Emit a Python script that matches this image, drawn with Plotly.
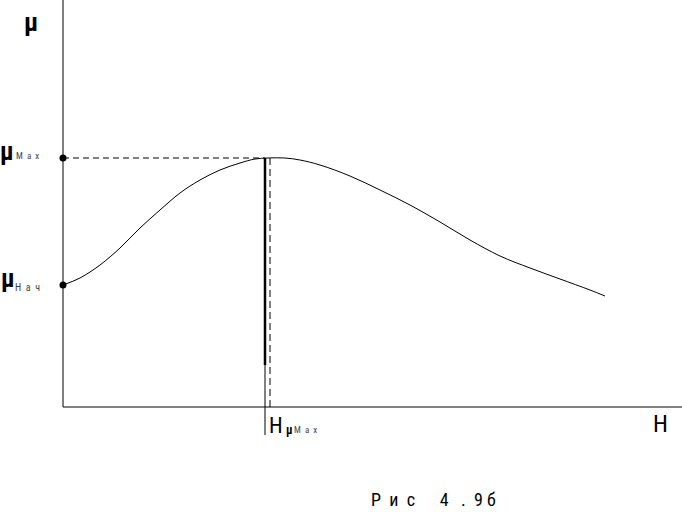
import plotly.graph_objects as go

# Curve data (arbitrary units): H and mu
H = [0, 0.17, 0.37, 0.57, 0.77, 0.97, 1.17, 1.37, 1.57, 1.77, 1.92, 2.05, 2.22, 2.37,
     2.57, 2.87, 3.17, 3.47, 3.77, 4.07, 4.37, 4.67, 4.97, 5.27, 5.42]
mu = [1.22, 1.29, 1.42, 1.59, 1.79, 1.97, 2.14, 2.27, 2.37, 2.44, 2.48, 2.49, 2.49, 2.47,
      2.42, 2.31, 2.17, 2.02, 1.85, 1.67, 1.51, 1.39, 1.28, 1.17, 1.11]

mu_nach = 1.22
mu_max = 2.49
H_mu_max = 2.02       # solid marker line
H_mu_max_dash = 2.07  # dashed marker line

X_RANGE = [-0.63, 6.19]
Y_RANGE = [-1.05, 4.07]

FONT = "Roboto Condensed, DejaVu Sans Condensed, sans-serif"

fig = go.Figure()

# main curve
fig.add_trace(go.Scatter(x=H, y=mu, mode="lines", line_shape="spline",
                         line=dict(color="black", width=1), showlegend=False,
                         hoverinfo="skip"))
# dots on mu axis
fig.add_trace(go.Scatter(x=[0, 0], y=[mu_max, mu_nach], mode="markers",
                         marker=dict(color="black", size=7), showlegend=False,
                         hoverinfo="skip"))

shapes = [
    # axes
    dict(type="line", x0=0, x1=0, y0=0, y1=Y_RANGE[1], line=dict(color="black", width=1)),
    dict(type="line", x0=0, x1=X_RANGE[1], y0=0, y1=0, line=dict(color="black", width=1)),
    # horizontal dashed at mu_max
    dict(type="line", x0=0, x1=H_mu_max, y0=mu_max, y1=mu_max,
         line=dict(color="black", width=1, dash="6px,4px")),
    # thin solid vertical
    dict(type="line", x0=H_mu_max, x1=H_mu_max, y0=mu_max, y1=-0.28,
         line=dict(color="black", width=1)),
    # thick vertical segment
    dict(type="line", x0=H_mu_max, x1=H_mu_max, y0=mu_max, y1=0.42,
         line=dict(color="black", width=2.5)),
    # dashed vertical
    dict(type="line", x0=H_mu_max_dash, x1=H_mu_max_dash, y0=mu_max, y1=0,
         line=dict(color="black", width=1, dash="7px,4px")),
]

ann = [
    dict(x=-0.325, y=3.85, text="<b>μ</b>", font=dict(size=26, color="black", family=FONT),
         xanchor="center", yanchor="middle"),
    dict(x=-0.56, y=2.56, text="<b>μ</b>", font=dict(size=25, color="black", family=FONT),
         xanchor="center", yanchor="middle"),
    dict(x=-0.495, y=2.51, text="M  a  x", font=dict(size=9, color="#444", family=FONT),
         xanchor="left", yanchor="middle"),
    dict(x=-0.555, y=1.29, text="<b>μ</b>", font=dict(size=25, color="black", family=FONT),
         xanchor="center", yanchor="middle"),
    dict(x=-0.505, y=1.20, text="Н  а  ч", font=dict(size=10, color="#444", family=FONT),
         xanchor="left", yanchor="middle"),
    dict(x=2.13, y=-0.185, text="H", font=dict(size=22, color="black", family=FONT),
         xanchor="center", yanchor="middle"),
    dict(x=2.265, y=-0.23, text="<b>μ</b>", font=dict(size=12, color="black", family=FONT),
         xanchor="center", yanchor="middle"),
    dict(x=2.29, y=-0.225, text="M  a  x", font=dict(size=9, color="#444", family=FONT),
         xanchor="left", yanchor="middle"),
    dict(x=5.975, y=-0.17, text="H", font=dict(size=24, color="black", family=FONT),
         xanchor="center", yanchor="middle"),
    dict(x=3.70, y=-0.925, text="Р  и  с      4   .  9 б", font=dict(size=18, color="black", family=FONT),
         xanchor="center", yanchor="middle"),
]
for a in ann:
    a.update(xref="x", yref="y", showarrow=False)

fig.update_layout(
    width=682, height=512,
    margin=dict(l=0, r=0, t=0, b=0),
    paper_bgcolor="white", plot_bgcolor="white",
    xaxis=dict(range=X_RANGE, visible=False, fixedrange=True),
    yaxis=dict(range=Y_RANGE, visible=False, fixedrange=True),
    shapes=shapes, annotations=ann, showlegend=False,
)

fig.write_html("out.html", config={"displayModeBar": False},
               post_script="document.body.style.margin='0';document.body.style.overflow='hidden';")
